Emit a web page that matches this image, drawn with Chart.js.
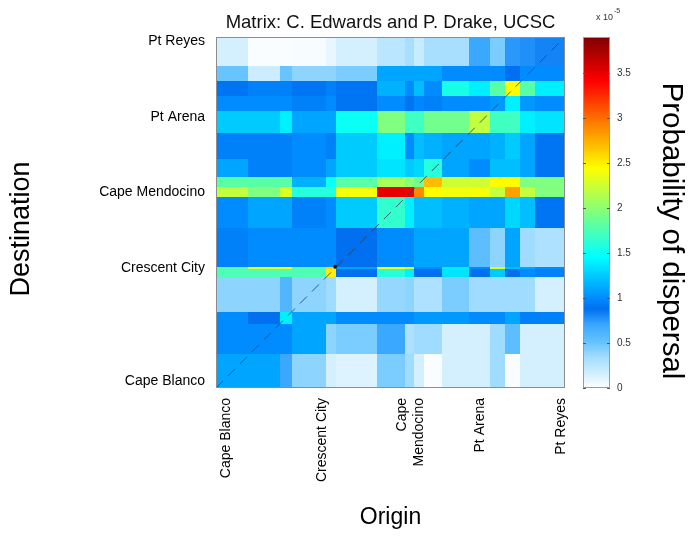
<!DOCTYPE html>
<html>
<head>
<meta charset="utf-8">
<script src="https://cdn.jsdelivr.net/npm/chart.js@4.4.1/dist/chart.umd.min.js"></script>
<style>
  html, body { margin: 0; padding: 0; background: #fff; }
</style>
</head>
<body>
<canvas id="heat" width="694" height="540"></canvas>
<script>
const FONT = "'Liberation Sans', Arial, Helvetica, sans-serif";

// cell edges along the coast (same units on both axes)
const xEdges = [0, 32, 64, 76, 110, 120, 161, 190, 199, 209, 227, 254, 275, 290, 305, 320, 350];
// destination edges, listed from the top row down
const yEdges = [350, 321, 306, 291, 276, 254, 228, 210, 200, 190, 160, 121, 119, 111, 76, 64, 34, 0];

// probability of dispersal (x 10^-5), rows top -> bottom, columns left -> right
const dispersal = [
  [0.15, 0.02, 0.02, 0.03, 0.08, 0.15, 0.25, 0.32, 0.2, 0.32, 0.32, 0.7, 0.45, 0.75, 0.78, 0.82],
  [0.5, 0.18, 0.5, 0.4, 0.4, 0.45, 1.1, 1.1, 1.1, 1.1, 1.0, 1.0, 1.0, 0.88, 1.0, 1.0],
  [0.9, 0.95, 0.95, 0.9, 0.95, 0.9, 1.15, 1.0, 1.2, 1.0, 1.55, 1.4, 1.8, 2.45, 1.8, 1.4],
  [1.0, 1.0, 1.0, 0.95, 1.0, 0.9, 1.0, 0.9, 0.98, 0.95, 1.0, 1.0, 1.05, 1.4, 1.05, 1.0],
  [1.25, 1.25, 1.4, 1.1, 1.1, 1.5, 1.95, 1.7, 1.7, 1.9, 1.9, 2.2, 1.7, 1.7, 1.4, 1.35],
  [0.95, 0.95, 0.95, 1.0, 0.95, 1.25, 1.4, 1.0, 1.2, 1.15, 1.1, 1.1, 1.15, 1.25, 1.1, 0.9],
  [1.1, 0.95, 0.95, 1.0, 1.1, 1.25, 1.35, 1.25, 1.3, 1.6, 1.1, 1.0, 1.2, 1.2, 1.1, 0.9],
  [1.8, 1.8, 1.8, 1.15, 1.5, 1.8, 2.1, 2.0, 1.9, 2.7, 2.25, 2.25, 2.45, 2.45, 1.95, 1.95],
  [2.2, 1.95, 2.3, 1.6, 1.6, 2.4, 3.5, 3.45, 2.9, 2.45, 2.4, 2.4, 2.2, 2.8, 2.2, 1.95],
  [1.0, 1.1, 1.1, 0.95, 1.0, 1.25, 1.65, 1.4, 1.2, 1.2, 1.15, 1.1, 1.1, 1.3, 1.2, 0.9],
  [0.95, 1.0, 1.0, 1.0, 1.0, 0.88, 1.0, 1.0, 1.1, 1.1, 1.1, 0.55, 0.4, 1.1, 0.35, 0.3],
  [1.8, 2.35, 2.4, 1.8, 2.6, 1.1, 2.4, 2.3, 1.0, 1.0, 1.4, 1.0, 2.3, 1.2, 1.1, 1.0],
  [1.75, 1.75, 1.75, 1.75, 2.5, 0.88, 1.6, 1.4, 0.88, 0.88, 1.35, 0.88, 1.25, 0.88, 1.0, 0.95],
  [0.4, 0.4, 0.6, 0.4, 0.35, 0.15, 0.38, 0.4, 0.3, 0.3, 0.45, 0.35, 0.35, 0.35, 0.35, 0.15],
  [1.0, 0.88, 1.4, 1.1, 1.1, 1.0, 1.0, 1.0, 1.05, 1.05, 1.05, 1.0, 1.0, 1.1, 0.95, 0.95],
  [1.0, 1.0, 1.0, 1.1, 0.4, 0.45, 0.7, 0.3, 0.35, 0.35, 0.15, 0.15, 0.35, 0.55, 0.15, 0.15],
  [1.1, 1.1, 0.7, 0.4, 0.15, 0.12, 0.45, 0.35, 0.15, 0.02, 0.15, 0.15, 0.35, 0.02, 0.15, 0.15]
];

// tick labels
const originTicks = [10, 106, 187, 265, 346];
const originLabels = ["Cape Blanco", "Crescent City", ["Cape", "Mendocino"], "Pt Arena", "Pt Reyes"];
const destTicks = [7, 120, 195, 270, 346];
const destLabels = ["Cape Blanco", "Crescent City", "Cape Mendocino", "Pt Arena", "Pt Reyes"];

// colour bar
const cbMin = 0;
const cbMax = 3.9;
const cbTicks = [0, 0.5, 1, 1.5, 2, 2.5, 3, 3.5];
const cmapStops = [0, 0.15, 0.35, 0.5, 0.7, 0.88, 1.0, 1.46, 1.95, 2.44, 2.93, 3.41, 3.9];
const cmapColors = ["#ffffff", "#d4f0ff", "#a0dcff", "#68c4ff", "#3aa8ff", "#0070f0", "#008cff",
  "#00ffff", "#80ff80", "#ffff00", "#ff8000", "#ff0000", "#800000"];

// diagonal (self-recruitment) line and marker
const diagX = [0, 350];
const diagY = [0, 350];
const markX = [119.6];
const markY = [121];

function hexToRgb(h) {
  return [parseInt(h.slice(1, 3), 16), parseInt(h.slice(3, 5), 16), parseInt(h.slice(5, 7), 16)];
}
const cmapRgb = cmapColors.map(hexToRgb);

function colorFor(v) {
  if (v <= cmapStops[0]) return cmapColors[0];
  for (let i = 1; i < cmapStops.length; i++) {
    if (v <= cmapStops[i]) {
      const t = (v - cmapStops[i - 1]) / (cmapStops[i] - cmapStops[i - 1]);
      const a = cmapRgb[i - 1], b = cmapRgb[i];
      const c = a.map((ch, k) => Math.round(ch + (b[k] - ch) * t));
      return `rgb(${c[0]},${c[1]},${c[2]})`;
    }
  }
  return cmapColors[cmapColors.length - 1];
}

// draws the matrix cells, frame, colour bar and side labels
const heatCells = {
  id: "heatCells",
  beforeDatasetsDraw(chart) {
    const { ctx, scales: { x, y } } = chart;
    ctx.save();
    for (let r = 0; r < dispersal.length; r++) {
      const yTop = Math.round(y.getPixelForValue(yEdges[r]));
      const yBot = Math.round(y.getPixelForValue(yEdges[r + 1]));
      for (let c = 0; c < dispersal[r].length; c++) {
        const xL = Math.round(x.getPixelForValue(xEdges[c]));
        const xR = Math.round(x.getPixelForValue(xEdges[c + 1]));
        ctx.fillStyle = colorFor(dispersal[r][c]);
        ctx.fillRect(xL, yTop, xR - xL, yBot - yTop);
      }
    }
    ctx.restore();
  },
  afterDraw(chart) {
    const { ctx, chartArea: a, scales: { cb } } = chart;
    ctx.save();

    // plot frame
    ctx.strokeStyle = "#8c8c8c";
    ctx.lineWidth = 1;
    ctx.strokeRect(Math.round(a.left) + 0.5, Math.round(a.top) + 0.5,
      Math.round(a.right - a.left) - 1, Math.round(a.bottom - a.top) - 1);

    // colour bar
    const bx = Math.round(a.right) + 18;
    const bw = 27;
    for (let py = Math.round(cb.top); py < Math.round(cb.bottom); py++) {
      ctx.fillStyle = colorFor(cb.getValueForPixel(py + 0.5));
      ctx.fillRect(bx, py, bw, 1);
    }
    ctx.strokeStyle = "#9a9a9a";
    ctx.strokeRect(bx + 0.5, Math.round(cb.top) + 0.5, bw - 1, Math.round(cb.bottom - cb.top) - 1);
    ctx.strokeStyle = "#555";
    cbTicks.forEach(v => {
      const py = Math.round(cb.getPixelForValue(v)) + 0.5;
      ctx.beginPath();
      ctx.moveTo(bx, py); ctx.lineTo(bx + 3, py);
      ctx.moveTo(bx + bw - 3, py); ctx.lineTo(bx + bw, py);
      ctx.stroke();
    });

    // exponent above the bar
    ctx.fillStyle = "#333";
    ctx.textBaseline = "alphabetic";
    ctx.textAlign = "left";
    ctx.font = "9px " + FONT;
    ctx.fillText("x 10", bx + 13, 20);
    ctx.font = "7px " + FONT;
    ctx.fillText("-5", bx + 31, 13);

    // side titles
    ctx.fillStyle = "#000";
    ctx.textAlign = "center";
    ctx.textBaseline = "middle";
    ctx.font = "27px " + FONT;
    ctx.translate(22, 229);
    ctx.rotate(-Math.PI / 2);
    ctx.fillText("Destination", 0, 0);
    ctx.setTransform(1, 0, 0, 1, 0, 0);
    ctx.font = "29.5px " + FONT;
    ctx.translate(671, 231);
    ctx.rotate(Math.PI / 2);
    ctx.fillText("Probability of dispersal", 0, 0);
    ctx.restore();
  }
};

new Chart(document.getElementById("heat"), {
  type: "scatter",
  data: {
    datasets: [
      {
        data: diagX.map((v, i) => ({ x: v, y: diagY[i] })),
        showLine: true,
        borderColor: "rgba(40,70,100,0.85)",
        borderWidth: 1,
        borderDash: [10, 7],
        pointRadius: 0,
        fill: false
      },
      {
        data: markX.map((v, i) => ({ x: v, y: markY[i] })),
        pointRadius: 2,
        backgroundColor: "#111",
        borderWidth: 0
      }
    ]
  },
  options: {
    responsive: false,
    animation: false,
    layout: { padding: 0 },
    plugins: {
      legend: { display: false },
      tooltip: { enabled: false },
      title: {
        display: true,
        text: "Matrix: C. Edwards and P. Drake, UCSC",
        fullSize: false,
        color: "#111",
        font: { family: FONT, size: 18.5, weight: "normal" },
        padding: { top: 11.5, bottom: 3.3 }
      }
    },
    scales: {
      x: {
        type: "linear",
        min: 0,
        max: 350,
        grid: { display: false, drawTicks: false },
        border: { display: false },
        afterBuildTicks: s => { s.ticks = originTicks.map(v => ({ value: v })); },
        afterFit: s => { s.height = 152; },
        ticks: {
          autoSkip: false,
          minRotation: 90,
          maxRotation: 90,
          padding: 10,
          color: "#000",
          font: { family: FONT, size: 14 },
          callback: (v, i) => originLabels[i]
        },
        title: {
          display: true,
          text: "Origin",
          color: "#000",
          font: { family: FONT, size: 23 },
          padding: { top: 0, bottom: 9 }
        }
      },
      y: {
        type: "linear",
        min: 0,
        max: 350,
        grid: { display: false, drawTicks: false },
        border: { display: false },
        afterBuildTicks: s => { s.ticks = destTicks.map(v => ({ value: v })); },
        afterFit: s => { s.width = 216; },
        ticks: {
          autoSkip: false,
          padding: 11,
          color: "#000",
          font: { family: FONT, size: 14 },
          callback: (v, i) => destLabels[i]
        }
      },
      cb: {
        axis: "y",
        type: "linear",
        position: "right",
        min: cbMin,
        max: cbMax,
        grid: { display: false, drawTicks: false },
        border: { display: false },
        afterBuildTicks: s => { s.ticks = cbTicks.map(v => ({ value: v })); },
        afterFit: s => {
          s.width = 129;
          // labels sit beside the bar; they need no room above or below
          s.paddingTop = 0;
          s.paddingBottom = 0;
        },
        ticks: {
          padding: 52,
          color: "#333",
          font: { family: FONT, size: 10 },
          callback: v => String(v)
        }
      }
    }
  },
  plugins: [heatCells]
});
</script>
</body>
</html>
